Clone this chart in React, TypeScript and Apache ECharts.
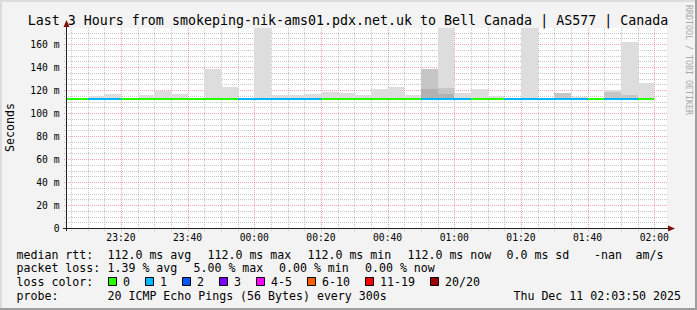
import React, { useEffect, useRef } from 'react';
import * as echarts from 'echarts';

const FONT = '"DejaVu Sans Mono", monospace';

// x axis in minutes relative to 00:00 (negative = before midnight)
const xMin = -(56 + 10 / 60); // 23:03:50
const xMax = 123 + 50 / 60; // 02:03:50
const xLabelTicks = [-40, -20, 0, 20, 40, 60, 80, 100, 120];
const yLabelTicks = [0, 20, 40, 60, 80, 100, 120, 140, 160];
const yMax = 174;

// 5-minute intervals, by end time (minutes relative to 00:00)
const intervalEnd = [-55, -50, -45, -40, -35, -30, -25, -20, -15, -10, -5, 0, 5, 10, 15, 20, 25, 30, 35, 40, 45, 50, 55, 60, 65, 70, 75, 80, 85, 90, 95, 100, 105, 110, 115, 120];
const lostPings = [0, 0, 1, 1, 0, 0, 0, 0, 0, 0, 0, 1, 1, 1, 1, 1, 0, 0, 0, 0, 0, 0, 1, 1, 1, 0, 0, 1, 1, 1, 1, 1, 0, 1, 1, 0];
const medianRtt = [112, 112, 112, 112, 112, 112, 112, 112, 112, 112, 112, 112, 112, 112, 112, 112, 112, 112, 112, 112, 112, 112, 112, 112, 112, 112, 112, 112, 112, 112, 112, 112, 112, 112, 112, 112];
const smokeLow = [111.5, 111.5, 111.5, 111.5, 111.5, 111.5, 111.5, 111.5, 111.5, 111.5, 111.5, 111.5, 111.5, 111.5, 111.5, 111.5, 111.5, 111.5, 111.5, 111.5, 111.5, 111.5, 111.5, 111.5, 111.5, 111.5, 111.5, 111.5, 111.5, 111.5, 111.5, 111.5, 111.5, 111.5, 111.5, 111.5];
const smokeHigh = [113, 113, 115, 116.5, 113, 115.8, 119.2, 116.8, 113, 138.4, 122.9, 113, 200, 115.6, 115.6, 116.5, 118.4, 117.4, 115.6, 120.9, 122.6, 115.6, 138.3, 210, 117.4, 120.9, 115, 113, 195, 113, 117.4, 113.6, 113, 120.3, 161.7, 126];
const smokeMid = [null, null, null, null, null, null, null, null, null, null, null, null, null, null, null, null, null, null, null, null, null, null, 138.3, 121.5, null, null, null, null, null, null, 117.4, null, null, 118.5, 115.6, null];
const smokeDark = [null, null, null, null, null, null, null, null, null, null, null, null, null, null, null, null, null, null, null, null, null, null, 120.5, 117, null, null, null, null, null, null, null, null, null, null, null, null];

const lossLegendLabels = ['0', '1', '2', '3', '4-5', '6-10', '11-19', '20/20'];
const lossLegendColors = ['#26ff00', '#00b8ff', '#0059ff', '#7e00ff', '#ff00ff', '#ff5e00', '#ff0000', '#a10000'];

const TITLE = 'Last 3 Hours from smokeping-nik-ams01.pdx.net.uk to Bell Canada | AS577 | Canada';
const rttStats = ['112.0 ms avg', '112.0 ms max', '112.0 ms min', '112.0 ms now', '0.0 ms sd', '-nan', 'am/s'];
const lossStats = ['1.39 % avg', '5.00 % max', '0.00 % min', '0.00 % now'];
const probeText = '20 ICMP Echo Pings (56 Bytes) every 300s';
const dateText = 'Thu Dec 11 02:03:50 2025';

// layout
const rttStatX = [107.5, 207.5, 307.5, 407.5, 506.5, 594, 635.5];
const lossStatX = [107.5, 193.5, 279, 365];
const rowY = [254.5, 268.3, 282.1, 295.9];

function lossColor(n: number): string {
  if (n <= 0) return lossLegendColors[0];
  if (n === 1) return lossLegendColors[1];
  if (n === 2) return lossLegendColors[2];
  if (n === 3) return lossLegendColors[3];
  if (n <= 5) return lossLegendColors[4];
  if (n <= 10) return lossLegendColors[5];
  if (n <= 19) return lossLegendColors[6];
  return lossLegendColors[7];
}

function fmtTime(v: number): string {
  let m = Math.round(v);
  if (m < 0) m += 1440;
  const h = Math.floor(m / 60);
  const mm = m % 60;
  return String(h).padStart(2, '0') + ':' + String(mm).padStart(2, '0');
}

function rectOf(api: any, x0: number, x1: number, lo: number, hi: number) {
  const a = api.coord([x0, hi]);
  const b = api.coord([x1, lo]);
  const left = Math.round(a[0]);
  const right = Math.round(b[0]);
  const top = Math.round(a[1]);
  const bottom = Math.round(b[1]);
  return { x: left, y: top, width: right - left, height: bottom - top };
}

function smokeSeries(name: string, tops: (number | null)[], fill: string, z: number) {
  const data: number[][] = [];
  intervalEnd.forEach((t, i) => {
    const top = tops[i];
    if (top !== null && top !== undefined) data.push([t - 5, t, smokeLow[i], top]);
  });
  return {
    type: 'custom',
    name,
    silent: true,
    clip: true,
    z,
    encode: { x: [0, 1], y: [2, 3] },
    data,
    renderItem: (_p: any, api: any) => ({
      type: 'rect',
      shape: rectOf(api, api.value(0), api.value(1), api.value(2), api.value(3)),
      style: { fill },
    }),
  };
}

const MINOR = 'rgba(144,144,144,0.5)';
const MAJOR = 'rgba(224,80,80,0.5)';

export default function App() {
  const ref = useRef<HTMLDivElement>(null);
  useEffect(() => {
    document.body.style.margin = '0';
    const chart = echarts.init(ref.current!, null, { renderer: 'svg' });

    const vLines: number[][] = [];
    for (let t = -55; t <= 120; t += 5) vLines.push([t, 0, t % 20 === 0 ? 1 : 0]);
    const hLines: number[][] = [];
    for (let v = 5; v < yMax; v += 5) hLines.push([xMin, v, v % 20 === 0 ? 1 : 0]);

    const medianData = intervalEnd.map((t, i) => [t - 5, t, medianRtt[i], lostPings[i]]);

    const graphic: any[] = [];
    // 3D border
    graphic.push({ type: 'rect', shape: { x: 0, y: 0, width: 697, height: 2 }, style: { fill: '#dcdcdc' }, silent: true });
    graphic.push({ type: 'rect', shape: { x: 0, y: 0, width: 2, height: 310 }, style: { fill: '#dcdcdc' }, silent: true });
    graphic.push({ type: 'rect', shape: { x: 0, y: 308, width: 697, height: 2 }, style: { fill: '#9e9e9e' }, silent: true });
    graphic.push({ type: 'rect', shape: { x: 695, y: 0, width: 2, height: 310 }, style: { fill: '#9e9e9e' }, silent: true });
    // axes
    graphic.push({ type: 'line', z: 50, shape: { x1: 66.5, y1: 231, x2: 66.5, y2: 24 }, style: { stroke: '#202020', lineWidth: 1 }, silent: true });
    graphic.push({ type: 'line', z: 50, shape: { x1: 63, y1: 228.5, x2: 670, y2: 228.5 }, style: { stroke: '#202020', lineWidth: 1 }, silent: true });
    graphic.push({ type: 'polygon', z: 50, shape: { points: [[63.5, 27], [69.5, 27], [66.5, 20]] }, style: { fill: '#801010' }, silent: true });
    graphic.push({ type: 'polygon', z: 50, shape: { points: [[668, 225.5], [668, 231.5], [675, 228.5]] }, style: { fill: '#801010' }, silent: true });
    // title
    graphic.push({ type: 'text', x: 348, y: 20, style: { text: TITLE, fontFamily: FONT, fontSize: 13.3, fill: '#000', align: 'center', verticalAlign: 'middle' } });
    // y axis title
    graphic.push({ type: 'text', x: 10, y: 127.5, rotation: Math.PI / 2, style: { text: 'Seconds', fontFamily: FONT, fontSize: 11.6, fill: '#000', align: 'center', verticalAlign: 'middle' } });
    // watermark
    graphic.push({ type: 'text', x: 688.5, y: 60, rotation: -Math.PI / 2, style: { text: 'RRDTOOL / TOBI OETIKER', fontFamily: FONT, fontSize: 8.3, fill: '#a8a8a8', align: 'center', verticalAlign: 'middle' } });

    const legendText = (text: string, x: number, y: number, align = 'left') => ({
      type: 'text', x, y, style: { text, fontFamily: FONT, fontSize: 11.6, fill: '#000', align, verticalAlign: 'middle' },
    });
    graphic.push(legendText('median rtt:', 16.5, rowY[0]));
    rttStats.forEach((s, i) => graphic.push(legendText(s, rttStatX[i], rowY[0])));
    graphic.push(legendText('packet loss:', 16.5, rowY[1]));
    lossStats.forEach((s, i) => graphic.push(legendText(s, lossStatX[i], rowY[1])));
    graphic.push(legendText('loss color:', 16.5, rowY[2]));
    let bx = 108;
    lossLegendLabels.forEach((lab, i) => {
      graphic.push({ type: 'rect', shape: { x: bx + 0.5, y: rowY[2] - 4.6, width: 8, height: 8 }, style: { fill: lossLegendColors[i], stroke: '#000', lineWidth: 1 } });
      graphic.push(legendText(lab, bx + 15, rowY[2]));
      bx = bx + 15 + lab.length * 7 + 15;
    });
    graphic.push(legendText('probe:', 16.5, rowY[3]));
    graphic.push(legendText(probeText, 107.5, rowY[3]));
    graphic.push(legendText(dateText, 681, rowY[3], 'right'));

    const option: any = {
      animation: false,
      backgroundColor: '#f3f3f3',
      grid: { left: 67, top: 28, width: 600, height: 200, show: true, backgroundColor: '#ffffff', borderWidth: 0 },
      xAxis: {
        type: 'value',
        min: xMin,
        max: xMax,
        axisLine: { show: false },
        axisTick: { show: false },
        splitLine: { show: false },
        axisLabel: {
          customValues: xLabelTicks,
          formatter: (v: number) => fmtTime(v),
          fontFamily: FONT,
          fontSize: 9.7,
          color: '#000',
          margin: 4.5,
        },
      },
      yAxis: {
        type: 'value',
        min: 0,
        max: yMax,
        interval: 20,
        axisLine: { show: false },
        axisTick: { show: false },
        splitLine: { show: false },
        axisLabel: {
          customValues: yLabelTicks,
          formatter: (v: number) => (v === 0 ? '0' : v % 20 === 0 ? v + ' m' : ''),
          fontFamily: FONT,
          fontSize: 9.7,
          color: '#000',
          margin: 7.5,
        },
      },
      series: [
        {
          type: 'custom', name: 'vgrid', silent: true, clip: false, z: 1,
          encode: { x: 0, y: 1 },
          data: vLines,
          renderItem: (params: any, api: any) => {
            const cs = params.coordSys;
            const x = Math.round(api.coord([api.value(0), 0])[0]) + 0.5;
            return { type: 'line', shape: { x1: x, y1: cs.y, x2: x, y2: cs.y + cs.height + 3 }, style: { stroke: api.value(2) ? MAJOR : MINOR, lineWidth: 1, lineDash: [1, 1] } };
          },
        },
        {
          type: 'custom', name: 'hgrid', silent: true, clip: false, z: 1,
          encode: { x: 0, y: 1 },
          data: hLines,
          renderItem: (params: any, api: any) => {
            const cs = params.coordSys;
            const y = Math.round(api.coord([xMin, api.value(1)])[1]) + 0.5;
            return { type: 'line', shape: { x1: cs.x - 3, y1: y, x2: cs.x + cs.width + 1, y2: y }, style: { stroke: api.value(2) ? MAJOR : MINOR, lineWidth: 1, lineDash: [1, 1] } };
          },
        },
        smokeSeries('smoke', smokeHigh, '#dddddd', 3),
        smokeSeries('smoke-mid', smokeMid, '#c6c6c6', 4),
        smokeSeries('smoke-dark', smokeDark, '#b2b2b2', 5),
        {
          type: 'custom', name: 'median rtt', silent: true, clip: true, z: 8,
          encode: { x: [0, 1], y: 2 },
          data: medianData,
          renderItem: (_p: any, api: any) => {
            const a = api.coord([api.value(0), api.value(2)]);
            const b = api.coord([api.value(1), api.value(2)]);
            const yc = Math.round(a[1]);
            const left = Math.round(a[0]);
            const right = Math.round(b[0]);
            return { type: 'rect', shape: { x: left, y: yc - 1, width: right - left, height: 2 }, style: { fill: lossColor(api.value(3)) } };
          },
        },
      ],
      graphic,
    };
    chart.setOption(option);
    return () => chart.dispose();
  }, []);
  return <div ref={ref} style={{ width: 697, height: 310 }} />;
}
